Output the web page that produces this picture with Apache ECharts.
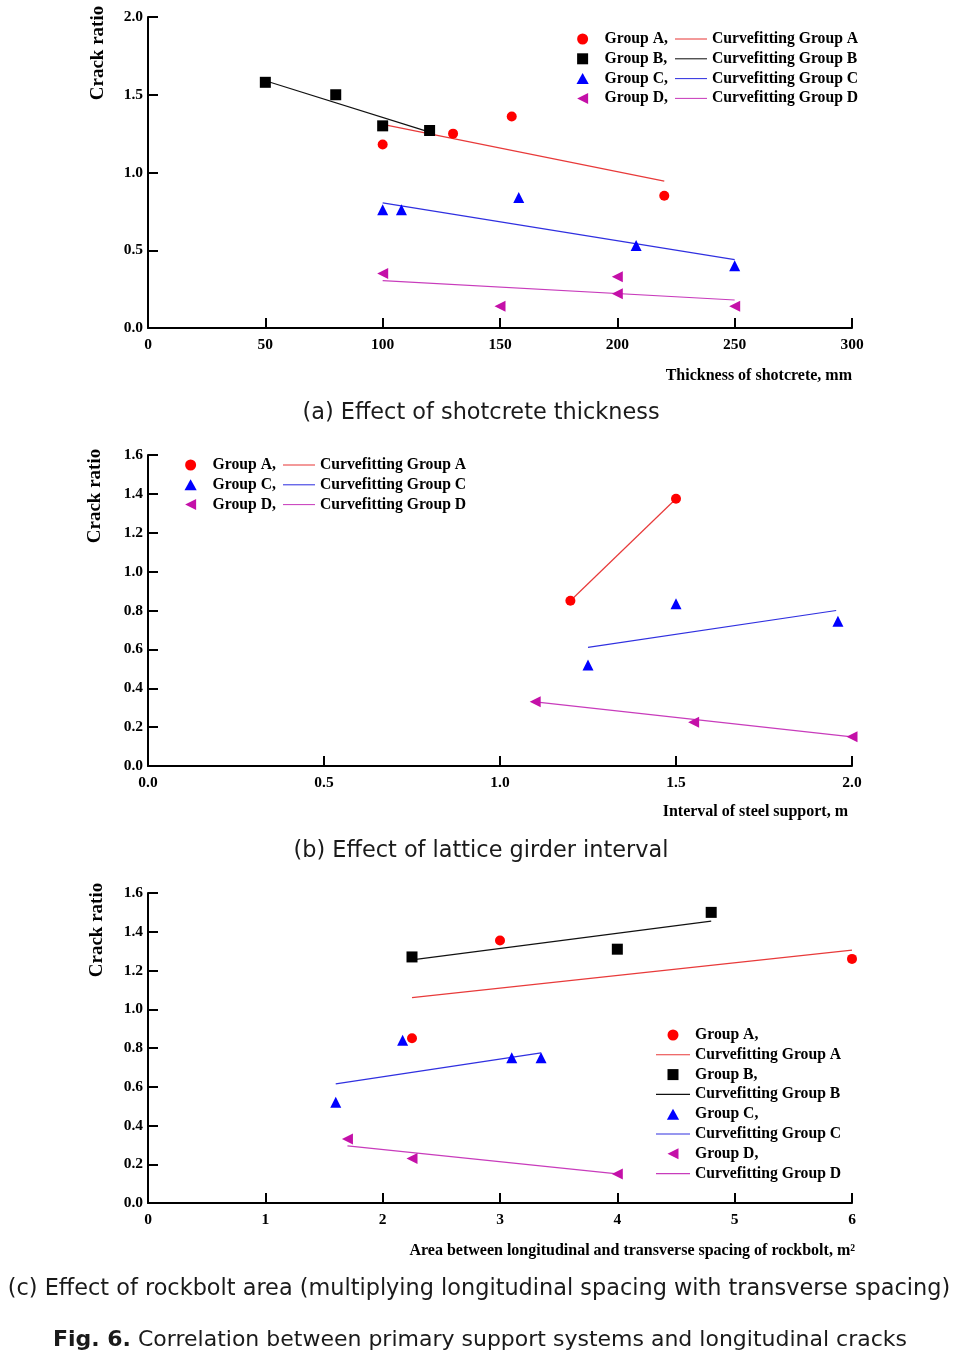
<!DOCTYPE html>
<html><head><meta charset="utf-8">
<script src="https://cdn.jsdelivr.net/npm/echarts@6/dist/echarts.min.js"></script>
<style>html,body{margin:0;padding:0;background:#fff}#c{width:969px;height:1355px}</style>
</head><body><div id="c"></div>
<script>
// ---------- DATA ----------
// (a) Effect of shotcrete thickness  [thickness mm, crack ratio]
const a_groupA = [[100,1.18],[130,1.25],[155,1.36],[220,0.85]];
const a_groupB = [[50,1.58],[80,1.50],[100,1.30],[120,1.27]];
const a_groupC = [[100,0.76],[108,0.76],[158,0.84],[208,0.53],[250,0.40]];
const a_groupD = [[100,0.35],[150,0.14],[200,0.33],[200,0.22],[250,0.14]];
const a_fitA = [[100,1.31],[220,0.945]];
const a_fitB = [[50,1.59],[120,1.26]];
const a_fitC = [[100,0.805],[250,0.44]];
const a_fitD = [[100,0.305],[250,0.18]];
const a_xTicks = [0,50,100,150,200,250,300];
const a_yTicks = [0,0.5,1.0,1.5,2.0];

// (b) Effect of lattice girder interval [interval m, crack ratio]
const b_groupA = [[1.2,0.85],[1.5,1.375]];
const b_groupC = [[1.5,0.835],[1.25,0.52],[1.96,0.745]];
const b_groupD = [[1.1,0.33],[1.55,0.225],[2.0,0.15]];
const b_fitA = [[1.2,0.85],[1.5,1.375]];
const b_fitC = [[1.25,0.61],[1.955,0.80]];
const b_fitD = [[1.1,0.33],[2.0,0.15]];
const b_xTicks = [0,0.5,1.0,1.5,2.0];
const b_yTicks = [0,0.2,0.4,0.6,0.8,1.0,1.2,1.4,1.6];

// (c) Effect of rockbolt area [area m2, crack ratio]
const c_groupA = [[3.0,1.355],[2.25,0.85],[6.0,1.26]];
const c_groupB = [[2.25,1.27],[4.0,1.31],[4.8,1.50]];
const c_groupC = [[2.17,0.84],[3.1,0.75],[3.35,0.75],[1.6,0.52]];
const c_groupD = [[1.7,0.33],[2.25,0.23],[4.0,0.15]];
const c_fitA = [[2.25,1.06],[6.0,1.305]];
const c_fitB = [[2.25,1.255],[4.8,1.455]];
const c_fitC = [[1.6,0.615],[3.35,0.775]];
const c_fitD = [[1.7,0.295],[4.0,0.15]];
const c_xTicks = [0,1,2,3,4,5,6];
const c_yTicks = [0,0.2,0.4,0.6,0.8,1.0,1.2,1.4,1.6];

const groupNames = ['Group A','Group B','Group C','Group D'];
const fitNames = ['Curvefitting Group A','Curvefitting Group B','Curvefitting Group C','Curvefitting Group D'];

// ---------- STYLE ----------
const serif = '"Liberation Serif","Times New Roman",serif';
const sans = '"DejaVu Sans","Noto Sans",sans-serif';
const COL = {A:'#ff0000', B:'#000000', C:'#0000ff', D:'#c410a8'};
const LCOL = {A:'#e83a3a', B:'#111111', C:'#3030e0', D:'#c83cbc'};
const SYM = {A:'circle', B:'rect', C:'triangle', D:'path://M0,5L10,0L10,10Z'};
const LEGSYM = {A:'circle', B:'path://M0,0H10V10H0Z', C:'path://M5,0L10,9L0,9Z', D:'path://M0,5L10,0L10,10Z'};
const LINEICON = 'path://M0,0H40V1.3H0Z';
const SSIZE = {A:10, B:11, C:11, D:11};

function step(t){ return t[1]-t[0]; }
function xAxis(i, ticks, fmt, name, pad, padR){
  return {type:'value', gridIndex:i, min:ticks[0], max:ticks[ticks.length-1], interval:step(ticks),
    axisLine:{show:true, onZero:false, lineStyle:{color:'#000', width:2}},
    axisTick:{show:true, inside:true, length:10, lineStyle:{color:'#000', width:2}},
    axisLabel:{margin:9, color:'#000', fontFamily:serif, fontWeight:'bold', fontSize:15.5, formatter:fmt},
    splitLine:{show:false},
    name:name, nameLocation:'end', nameGap:0,
    nameTextStyle:{align:'right', verticalAlign:'top', padding:[pad,padR,0,0], color:'#000', fontFamily:serif, fontWeight:'bold', fontSize:16}
  };
}
function yAxis(i, ticks){
  return {type:'value', gridIndex:i, min:ticks[0], max:ticks[ticks.length-1], interval:step(ticks),
    axisLine:{show:true, onZero:false, lineStyle:{color:'#000', width:2}},
    axisTick:{show:true, inside:true, length:10, lineStyle:{color:'#000', width:2}},
    axisLabel:{margin:5, color:'#000', fontFamily:serif, fontWeight:'bold', fontSize:15.5, formatter:v=>v.toFixed(1)},
    splitLine:{show:false}
  };
}
function scatter(i, g, data){
  return {type:'scatter', name:'Group '+g, xAxisIndex:i, yAxisIndex:i, data:data, clip:false,
    symbol:SYM[g], symbolSize:SSIZE[g], itemStyle:{color:COL[g], opacity:1}, z:4};
}
function fit(i, g, data){
  return {type:'line', name:'Curvefitting Group '+g, xAxisIndex:i, yAxisIndex:i, data:data, clip:false,
    symbol:'none', lineStyle:{color:LCOL[g], width:1.2}, itemStyle:{color:LCOL[g]}, z:3};
}
const legText = {fontFamily:serif, fontWeight:'bold', fontSize:15.7, color:'#000', lineHeight:16};
function legItem(n){
  if (n.indexOf('Curvefitting')===0) return {name:n, icon:LINEICON};
  return {name:n, icon:LEGSYM[n.slice(-1)]};
}
function legend(data, left, top, w){
  return {data:data.map(legItem), orient:'vertical', left:left, top:top, itemWidth:w, itemHeight:11, itemGap:3.8,
    symbolKeepAspect:true, padding:0, textStyle:legText, selectedMode:false,
    formatter: n => n.indexOf('Curvefitting')===0 ? n : n + ','};
}

const option = {
  animation:false,
  backgroundColor:'#fff',
  grid:[
    {left:148, top:17, width:704, height:311},
    {left:148, top:455, width:704, height:311},
    {left:148, top:893, width:704, height:310}
  ],
  xAxis:[
    xAxis(0, a_xTicks, v=>String(v), 'Thickness of shotcrete, mm', 40, 0),
    xAxis(1, b_xTicks, v=>v.toFixed(1), 'Interval of steel support, m', 38, 4),
    xAxis(2, c_xTicks, v=>String(v), 'Area between longitudinal and transverse spacing of rockbolt, m\u00B2', 40, -3)
  ],
  yAxis:[ yAxis(0, a_yTicks), yAxis(1, b_yTicks), yAxis(2, c_yTicks) ],
  legend:[
    legend(groupNames, 576.5, 31, 34),
    legend(fitNames, 675, 31, 32),
    legend(['Group A','Group C','Group D'], 184.5, 457, 34),
    legend(['Curvefitting Group A','Curvefitting Group C','Curvefitting Group D'], 283, 457, 32),
    legend(['Group A','Curvefitting Group A','Group B','Curvefitting Group B','Group C','Curvefitting Group C','Group D','Curvefitting Group D'], 656, 1027, 34)
  ],
  series:[
    fit(0,'A',a_fitA), fit(0,'B',a_fitB), fit(0,'C',a_fitC), fit(0,'D',a_fitD),
    scatter(0,'A',a_groupA), scatter(0,'B',a_groupB), scatter(0,'C',a_groupC), scatter(0,'D',a_groupD),
    fit(1,'A',b_fitA), fit(1,'C',b_fitC), fit(1,'D',b_fitD),
    scatter(1,'A',b_groupA), scatter(1,'C',b_groupC), scatter(1,'D',b_groupD),
    fit(2,'A',c_fitA), fit(2,'B',c_fitB), fit(2,'C',c_fitC), fit(2,'D',c_fitD),
    scatter(2,'A',c_groupA), scatter(2,'B',c_groupB), scatter(2,'C',c_groupC), scatter(2,'D',c_groupD)
  ],
  graphic:[
    {type:'text', x:98, y:53, rotation:Math.PI/2, style:{text:'Crack ratio', align:'center', verticalAlign:'middle', fill:'#000', font:'bold 19px '+serif}},
    {type:'text', x:95, y:496, rotation:Math.PI/2, style:{text:'Crack ratio', align:'center', verticalAlign:'middle', fill:'#000', font:'bold 19px '+serif}},
    {type:'text', x:97, y:930, rotation:Math.PI/2, style:{text:'Crack ratio', align:'center', verticalAlign:'middle', fill:'#000', font:'bold 19px '+serif}},
    {type:'text', x:481, y:413, style:{text:'(a) Effect of shotcrete thickness', align:'center', verticalAlign:'middle', fill:'#1a1a1a', font:'22.4px '+sans}},
    {type:'text', x:481, y:851, style:{text:'(b) Effect of lattice girder interval', align:'center', verticalAlign:'middle', fill:'#1a1a1a', font:'22.4px '+sans}},
    {type:'text', x:479, y:1289, style:{text:'(c) Effect of rockbolt area (multiplying longitudinal spacing with transverse spacing)', align:'center', verticalAlign:'middle', fill:'#1a1a1a', font:'22.4px '+sans}},
    {type:'text', x:480, y:1340, style:{text:'{b|Fig. 6.} Correlation between primary support systems and longitudinal cracks', align:'center', verticalAlign:'middle', fill:'#1a1a1a', font:'22px '+sans,
      rich:{b:{fontWeight:'bold', fontSize:22, fontFamily:sans, fill:'#1a1a1a'}}}}
  ]
};
const chart = echarts.init(document.getElementById('c'), null, {renderer:'canvas'});
chart.setOption(option);
</script>
</body></html>
